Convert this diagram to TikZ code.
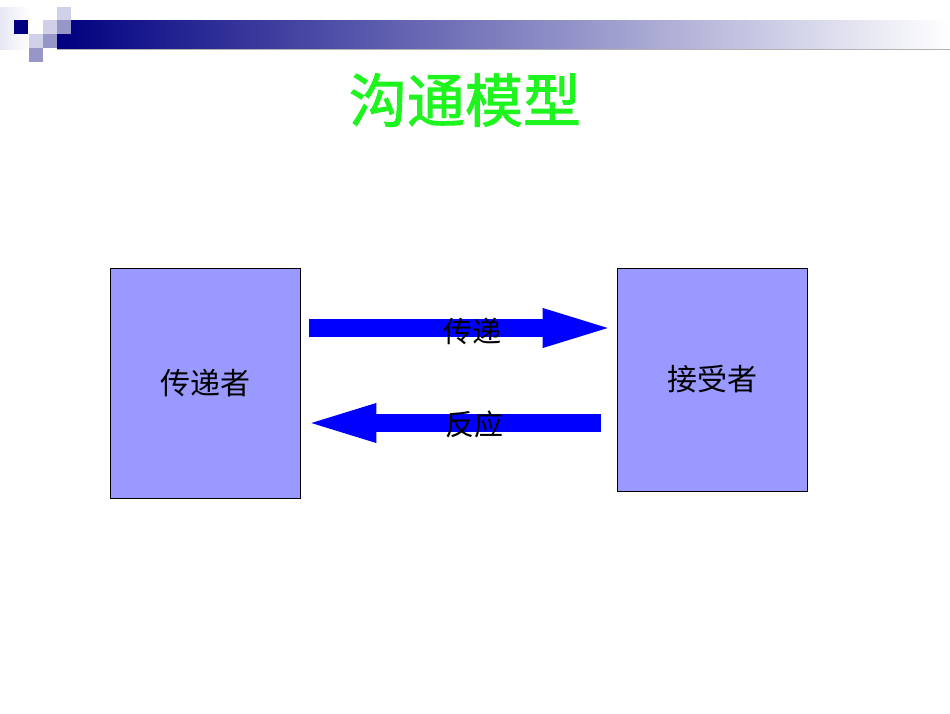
\documentclass[tikz,border=0pt]{standalone}
\usepackage{fontspec}
\newfontfamily\cjk{Noto Sans CJK SC}
\newfontfamily\cjktitle[FakeBold=1.6]{Noto Sans CJK SC}
\usetikzlibrary{arrows.meta}

\definecolor{navy}{RGB}{0,0,128}
\definecolor{lightlav}{RGB}{208,208,232}
\definecolor{midlav}{RGB}{150,150,200}
\definecolor{boxfill}{RGB}{153,153,255}
\definecolor{titlegreen}{RGB}{30,245,30}

\tikzset{global scale/.style={
    	x=#1pt, y=-#1pt,
    	every node/.append style={scale=#1}
  	},
  	party/.style={draw=black, fill=boxfill, line width=0.8pt, minimum width=190pt, font=\cjk\fontsize{30}{36}\selectfont},
  	flow/.style={blue, line width=18pt, -{Triangle[length=78pt, width=33pt]}},
  	flowlabel/.style={font=\cjk\fontsize{29}{34}\selectfont}
}

\begin{document}
\begin{tikzpicture}[global scale = 1]
	\useasboundingbox (0,0) rectangle (950,713);
	% top banner
	\shade[left color=lightlav!50, right color=white] (0,7) rectangle (30,49);
	\shade[left color=navy, right color=white] (57,20) rectangle (950,49);
	\draw[gray!60, line width=1pt] (57,49) -- (950,49);
	\foreach \x/\y/\c in {14/20/navy, 57/7/lightlav, 43/20/lightlav, 57/20/midlav, 29/34/lightlav, 43/34/midlav, 29/48/midlav}
		\fill[\c] (\x,\y) rectangle ++(14,14);
	% title
	\node[text=titlegreen, font=\cjktitle\fontsize{58}{62}\selectfont] (title) at (465,100) {沟通模型};
	% sender, receiver
	\node[party, minimum height=230pt] (send) at (205,383) {传递者};
	\node[party, minimum height=223pt] (recv) at (712,379.5) {接受者};
	\coordinate (fwd) at (0,328);
	\coordinate (back) at (0,423);
	\draw[flow, shorten <=9pt, shorten >=-4pt] (send.east |- fwd) -- (recv.west |- fwd);
	\draw[flow, shorten <=16pt, shorten >=-2pt] (recv.west |- back) -- (send.east |- back);
	\node[flowlabel] (fwdlabel) at (472,331) {传递};
	\node[flowlabel] (backlabel) at (474,424) {反应};
\end{tikzpicture}
\end{document}
